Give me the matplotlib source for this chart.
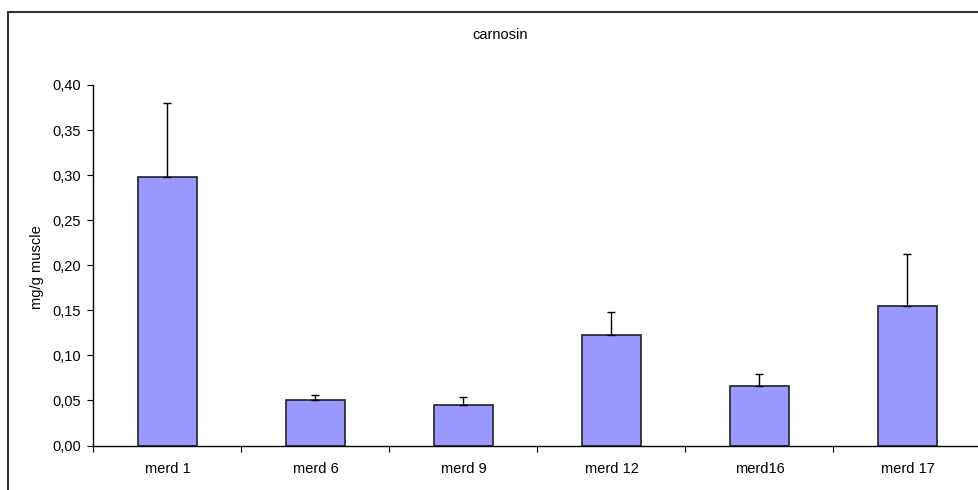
import matplotlib
matplotlib.use("Agg")
from matplotlib import pyplot as plt
from matplotlib.patches import Rectangle
from matplotlib.ticker import FuncFormatter, MultipleLocator

categories = ["merd 1", "merd 6", "merd 9", "merd 12", "merd16", "merd 17"]
values = [0.298, 0.051, 0.045, 0.123, 0.066, 0.155]
errors = [0.082, 0.0045, 0.009, 0.025, 0.0135, 0.058]

plt.rcParams["font.family"] = ["Liberation Sans", "DejaVu Sans"]

W, H = 979, 490
fig = plt.figure(figsize=(W / 100, H / 100), dpi=100)

# outer chart frame (cut off at right and bottom like the original)
fig.patches.append(
    Rectangle((8 / W, -0.1), 1.2, 1 - 12 / H + 0.1, transform=fig.transFigure,
              fill=False, edgecolor="#333333", linewidth=1.5)
)

ax = fig.add_axes([93.5 / W, (H - 445.5) / H, 888 / W, 360.5 / H])

x = [i + 0.5 for i in range(len(categories))]
ax.bar(x, values, width=0.4, color="#9999ff", edgecolor="#222222", linewidth=1.2, zorder=2)
ax.errorbar(x, values, yerr=[[0] * len(errors), errors], fmt="none",
            ecolor="black", elinewidth=1, capsize=2.8, capthick=1, zorder=3)

ax.set_xlim(0, 6)
ax.set_ylim(0, 0.40)
ax.yaxis.set_major_locator(MultipleLocator(0.05))
ax.yaxis.set_major_formatter(FuncFormatter(lambda v, p: f"{v:.2f}".replace(".", ",")))

ax.set_xticks(x)
ax.set_xticklabels(categories)
ax.set_xticks(range(7), minor=True)
ax.tick_params(axis="x", which="major", length=0, pad=12, labelsize=10.5)
ax.tick_params(axis="x", which="minor", direction="out", length=4, width=0.8)
ax.tick_params(axis="y", direction="out", length=4, width=0.8, pad=5, labelsize=10.5)

for side in ["top", "right"]:
    ax.spines[side].set_visible(False)
for side in ["left", "bottom"]:
    ax.spines[side].set_linewidth(1)
    ax.spines[side].set_color("black")

fig.text(500 / W, 1 - 35 / H, "carnosin", ha="center", va="center", fontsize=10.5)
fig.text(37 / W, 1 - 267 / H, "mg/g muscle", ha="center", va="center",
         rotation=90, fontsize=10.5)

fig.savefig("out.png", dpi=100)
